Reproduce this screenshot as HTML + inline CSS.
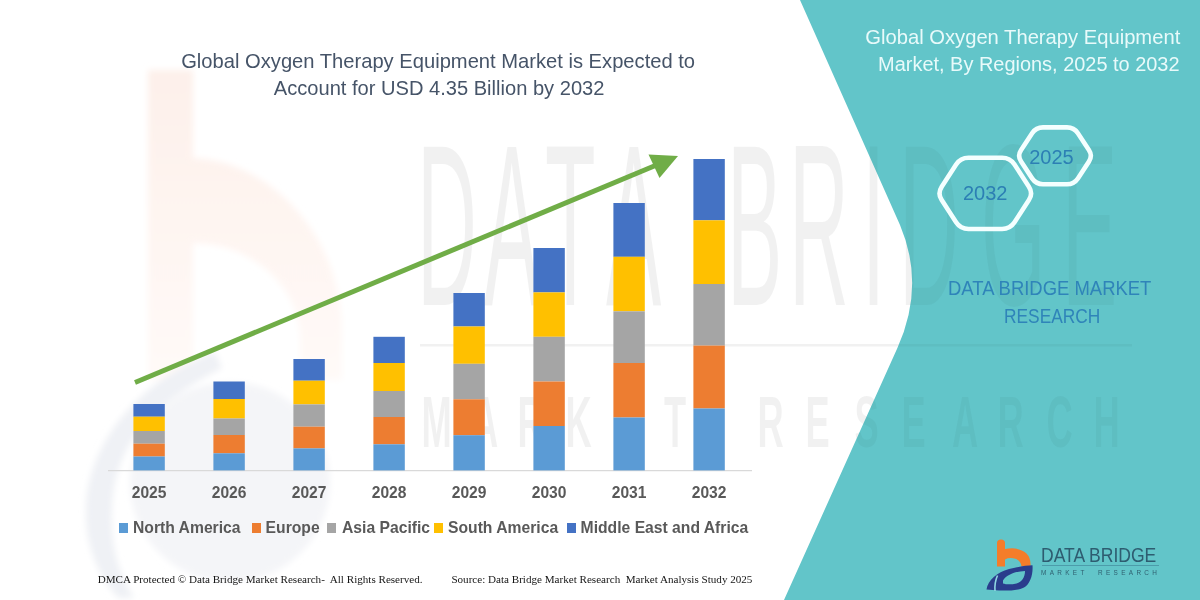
<!DOCTYPE html>
<html>
<head>
<meta charset="utf-8">
<style>
html,body{margin:0;padding:0;}
body{width:1200px;height:600px;position:relative;overflow:hidden;background:#ffffff;font-family:"Liberation Sans",sans-serif;}
svg{position:absolute;left:0;top:0;}
.t{position:absolute;white-space:nowrap;line-height:1;}
.yr{top:485px;width:60px;text-align:center;font-size:15.6px;font-weight:bold;color:#595959;}
.lg{top:520px;font-size:15.7px;font-weight:bold;color:#595959;}
.mk{position:absolute;top:523px;width:9.6px;height:9.6px;}
.ft{top:574px;font-family:"Liberation Serif",serif;font-size:11.05px;color:#151515;}
</style>
</head>
<body>
<svg width="1200" height="600" viewBox="0 0 1200 600">
  <defs>
    <linearGradient id="bg1" x1="0" y1="0" x2="0" y2="1"><stop offset="0" stop-color="#FDF0EA"/><stop offset="1" stop-color="#FFFAF8"/></linearGradient>
    <filter id="soft" x="-20%" y="-20%" width="140%" height="140%"><feGaussianBlur stdDeviation="3"/></filter>
    <clipPath id="panelclip"><path d="M800,0 L1200,0 L1200,600 L784,600 L897.4,348 Q925.6,285.4 900,225 Z"/></clipPath>
    <clipPath id="whiteclip"><path clip-rule="evenodd" d="M0,0 L1200,0 L1200,600 L0,600 Z M800,0 L1200,0 L1200,600 L784,600 L897.4,348 Q925.6,285.4 900,225 Z"/></clipPath>
  </defs>
  <!-- faint watermark logo (left) -->
  <g filter="url(#soft)">
  <path d="M148,70 L193,70 L193,158 C266,160 342,232 342,332 L342,380 L300,380 L300,335 C298,285 250,243 193,243 L193,380 L148,380 Z" fill="url(#bg1)"/>
  <ellipse cx="230" cy="482" rx="100" ry="100" fill="#F4F5F8"/>
  <path d="M215,352 C140,380 90,440 86,505 C84,545 98,575 118,598 L134,598 C118,572 110,545 112,505 C116,445 150,405 222,368 Z" fill="#EFF1F5"/>
  </g>
  <!-- teal panel -->
  <path d="M800,0 L1200,0 L1200,600 L784,600 L897.4,348 Q925.6,285.4 900,225 Z" fill="#62C5C9"/>
  <!-- faint watermark text overlay -->
  <g fill="#000000" fill-opacity="0.055" clip-path="url(#whiteclip)">
  <text transform="scale(0.36 1)" x="1158.3 1344.4 1513.9 1683.3 1861.1 2019.4 2191.7 2394.4 2497.2 2725.0 2950.0" y="305" font-family="Liberation Sans, sans-serif" font-size="230">DATA BRIDGE</text>
  <rect x="420" y="344" width="712" height="2.5"/>
  <text transform="scale(0.5 1)" x="842.8 944.0 1034.8 1130.8 1226.8 1328.0 1420.0 1514.8 1610.8 1709.0 1802.8 1904.0 1994.8 2093.0 2186.8" y="447" font-family="Liberation Sans, sans-serif" font-size="72.6" font-weight="bold">MARKET RESEARCH</text>
  </g>
  <g fill="#000000" fill-opacity="0.035" clip-path="url(#panelclip)">
  <text transform="scale(0.36 1)" x="1158.3 1344.4 1513.9 1683.3 1861.1 2019.4 2191.7 2394.4 2497.2 2725.0 2950.0" y="305" font-family="Liberation Sans, sans-serif" font-size="230">DATA BRIDGE</text>
  <rect x="420" y="344" width="712" height="2.5"/>
  <text transform="scale(0.5 1)" x="842.8 944.0 1034.8 1130.8 1226.8 1328.0 1420.0 1514.8 1610.8 1709.0 1802.8 1904.0 1994.8 2093.0 2186.8" y="447" font-family="Liberation Sans, sans-serif" font-size="72.6" font-weight="bold">MARKET RESEARCH</text>
  </g>
  <!-- axis -->
  <line x1="108" y1="470.7" x2="752" y2="470.7" stroke="#D9D9D9" stroke-width="1.2"/>
  <!-- bars -->
  <rect x="133.4" y="404.0" width="31.4" height="12.7" fill="#4472C4"/>
  <rect x="133.4" y="416.7" width="31.4" height="14.3" fill="#FFC000"/>
  <rect x="133.4" y="431.0" width="31.4" height="12.7" fill="#A5A5A5"/>
  <rect x="133.4" y="443.7" width="31.4" height="12.8" fill="#ED7D31"/>
  <rect x="133.4" y="456.5" width="31.4" height="13.9" fill="#5B9BD5"/>
  <rect x="213.4" y="381.5" width="31.4" height="17.5" fill="#4472C4"/>
  <rect x="213.4" y="399.0" width="31.4" height="19.5" fill="#FFC000"/>
  <rect x="213.4" y="418.5" width="31.4" height="16.5" fill="#A5A5A5"/>
  <rect x="213.4" y="435.0" width="31.4" height="18.3" fill="#ED7D31"/>
  <rect x="213.4" y="453.3" width="31.4" height="17.1" fill="#5B9BD5"/>
  <rect x="293.4" y="359.0" width="31.4" height="21.7" fill="#4472C4"/>
  <rect x="293.4" y="380.7" width="31.4" height="23.7" fill="#FFC000"/>
  <rect x="293.4" y="404.4" width="31.4" height="22.3" fill="#A5A5A5"/>
  <rect x="293.4" y="426.7" width="31.4" height="21.7" fill="#ED7D31"/>
  <rect x="293.4" y="448.4" width="31.4" height="22.0" fill="#5B9BD5"/>
  <rect x="373.4" y="336.8" width="31.4" height="26.2" fill="#4472C4"/>
  <rect x="373.4" y="363.0" width="31.4" height="28.0" fill="#FFC000"/>
  <rect x="373.4" y="391.0" width="31.4" height="26.0" fill="#A5A5A5"/>
  <rect x="373.4" y="417.0" width="31.4" height="27.3" fill="#ED7D31"/>
  <rect x="373.4" y="444.3" width="31.4" height="26.1" fill="#5B9BD5"/>
  <rect x="453.4" y="293.0" width="31.4" height="33.5" fill="#4472C4"/>
  <rect x="453.4" y="326.5" width="31.4" height="37.3" fill="#FFC000"/>
  <rect x="453.4" y="363.8" width="31.4" height="35.5" fill="#A5A5A5"/>
  <rect x="453.4" y="399.3" width="31.4" height="35.9" fill="#ED7D31"/>
  <rect x="453.4" y="435.2" width="31.4" height="35.2" fill="#5B9BD5"/>
  <rect x="533.4" y="248.0" width="31.4" height="44.4" fill="#4472C4"/>
  <rect x="533.4" y="292.4" width="31.4" height="44.4" fill="#FFC000"/>
  <rect x="533.4" y="336.8" width="31.4" height="44.7" fill="#A5A5A5"/>
  <rect x="533.4" y="381.5" width="31.4" height="44.5" fill="#ED7D31"/>
  <rect x="533.4" y="426.0" width="31.4" height="44.4" fill="#5B9BD5"/>
  <rect x="613.4" y="203.0" width="31.4" height="53.8" fill="#4472C4"/>
  <rect x="613.4" y="256.8" width="31.4" height="54.5" fill="#FFC000"/>
  <rect x="613.4" y="311.3" width="31.4" height="51.7" fill="#A5A5A5"/>
  <rect x="613.4" y="363.0" width="31.4" height="54.5" fill="#ED7D31"/>
  <rect x="613.4" y="417.5" width="31.4" height="52.9" fill="#5B9BD5"/>
  <rect x="693.4" y="159.0" width="31.4" height="61.3" fill="#4472C4"/>
  <rect x="693.4" y="220.3" width="31.4" height="63.7" fill="#FFC000"/>
  <rect x="693.4" y="284.0" width="31.4" height="61.6" fill="#A5A5A5"/>
  <rect x="693.4" y="345.6" width="31.4" height="62.9" fill="#ED7D31"/>
  <rect x="693.4" y="408.5" width="31.4" height="61.9" fill="#5B9BD5"/>
  <!-- arrow -->
  <line x1="135" y1="382.5" x2="656" y2="165.3" stroke="#70AD47" stroke-width="5"/>
  <polygon points="648.5,154.5 678,156 659.5,178" fill="#70AD47"/>
  <!-- hexagons -->
  <path d="M941.7,186.7 L956.1,164.5 Q960.5,157.8 968.5,157.8 L1002.1,157.8 Q1010.1,157.8 1014.5,164.5 L1028.9,186.7 Q1033.3,193.4 1028.9,200.1 L1014.5,222.3 Q1010.1,229.0 1002.1,229.0 L968.5,229.0 Q960.5,229.0 956.1,222.3 L941.7,200.1 Q937.3,193.4 941.7,186.7 Z" fill="none" stroke="#F4FFFF" stroke-width="4.6" stroke-linejoin="round"/>
  <path d="M1021.1,150.0 L1032.1,133.2 Q1036.0,127.4 1043.0,127.4 L1067.0,127.4 Q1074.0,127.4 1077.9,133.2 L1088.9,150.0 Q1092.8,155.8 1088.9,161.6 L1077.9,178.4 Q1074.0,184.2 1067.0,184.2 L1043.0,184.2 Q1036.0,184.2 1032.1,178.4 L1021.1,161.6 Q1017.2,155.8 1021.1,150.0 Z" fill="none" stroke="#F4FFFF" stroke-width="4.6" stroke-linejoin="round"/>
  <!-- logo -->
  <path d="M997,543 Q997,539.5 1001,539.5 Q1005,539.5 1005,543 L1005,549 Q1019,546.5 1026.5,553.5 Q1031,558 1030.5,566 L1021.5,566.5 Q1021,561 1015.5,558.8 Q1009.5,557 1005,559.5 L1005,566.5 L997,566.5 Z" fill="#F47D2A"/>
  <path fill-rule="evenodd" d="M986.5,589.5 C988,580 997,572.5 1009,569 C1019,566.5 1027,565.5 1032.5,565.3 C1033.2,575 1030,584 1024,587.5 C1018,590.5 1008,590.8 999,590.5 Z M1003,580.5 C1007,574.5 1015,571.5 1025,571 C1025,577 1022,582 1016.5,583.5 C1011,584.8 1006,584.5 1003,583.5 Z" fill="#2A3D8C"/>
  <path d="M997.5,575.5 C995.5,580 994.5,585 995,591" fill="none" stroke="#8FD6E2" stroke-width="1.6"/>
  <line x1="1042" y1="565.6" x2="1159" y2="565.6" stroke="#3E7F94" stroke-width="0.8" opacity="0.8"/>
</svg>
<div class="t" style="left:181.2px;top:51.4px;font-size:20.16px;color:#465468;">Global Oxygen Therapy Equipment Market is Expected to</div>
<div class="t" style="left:273.8px;top:78.4px;font-size:20.1px;color:#465468;">Account for USD 4.35 Billion by 2032</div>
<div class="t" style="left:865.3px;top:27.15px;font-size:20.2px;color:#E8FAFA;">Global Oxygen Therapy Equipment</div>
<div class="t" style="left:878.1px;top:54.7px;font-size:19.96px;color:#E8FAFA;">Market, By Regions, 2025 to 2032</div>
<div class="t" style="left:963px;top:183.2px;font-size:20px;color:#2C7FB4;">2032</div>
<div class="t" style="left:1029.2px;top:146.8px;font-size:20px;color:#2C7FB4;">2025</div>
<div class="t" style="left:948.3px;top:278.3px;font-size:20.4px;color:#2F84B9;transform:scaleX(0.905);transform-origin:0 0;">DATA BRIDGE MARKET</div>
<div class="t" style="left:1004.3px;top:305.5px;font-size:20.4px;color:#2F84B9;transform:scaleX(0.85);transform-origin:0 0;">RESEARCH</div>
<div class="t" style="left:1041px;top:545.1px;font-size:20.4px;color:#2E5C70;transform:scaleX(0.86);transform-origin:0 0;">DATA BRIDGE</div>
<div class="t" style="left:1041px;top:569.8px;font-size:6.4px;color:#2F6070;letter-spacing:3.35px;">MARKET&nbsp; RESEARCH</div>
<div class="t yr" style="left:119.1px;">2025</div>
<div class="t yr" style="left:199.1px;">2026</div>
<div class="t yr" style="left:279.1px;">2027</div>
<div class="t yr" style="left:359.1px;">2028</div>
<div class="t yr" style="left:439.1px;">2029</div>
<div class="t yr" style="left:519.1px;">2030</div>
<div class="t yr" style="left:599.1px;">2031</div>
<div class="t yr" style="left:679.1px;">2032</div>
<div class="mk" style="left:118.6px;background:#5B9BD5;"></div><div class="t lg" style="left:133px;">North America</div>
<div class="mk" style="left:251.5px;background:#ED7D31;"></div><div class="t lg" style="left:265.6px;">Europe</div>
<div class="mk" style="left:326.5px;background:#A5A5A5;"></div><div class="t lg" style="left:342px;">Asia Pacific</div>
<div class="mk" style="left:433.6px;background:#FFC000;"></div><div class="t lg" style="left:448px;">South America</div>
<div class="mk" style="left:566.6px;background:#4472C4;"></div><div class="t lg" style="left:580.6px;">Middle East and Africa</div>
<div class="t ft" style="left:97.7px;font-size:11.1px;top:573.7px;">DMCA Protected © Data Bridge Market Research-&nbsp; All Rights Reserved.</div>
<div class="t ft" style="left:451.4px;font-size:11.1px;top:573.7px;">Source: Data Bridge Market Research&nbsp; Market Analysis Study 2025</div>
</body>
</html>
